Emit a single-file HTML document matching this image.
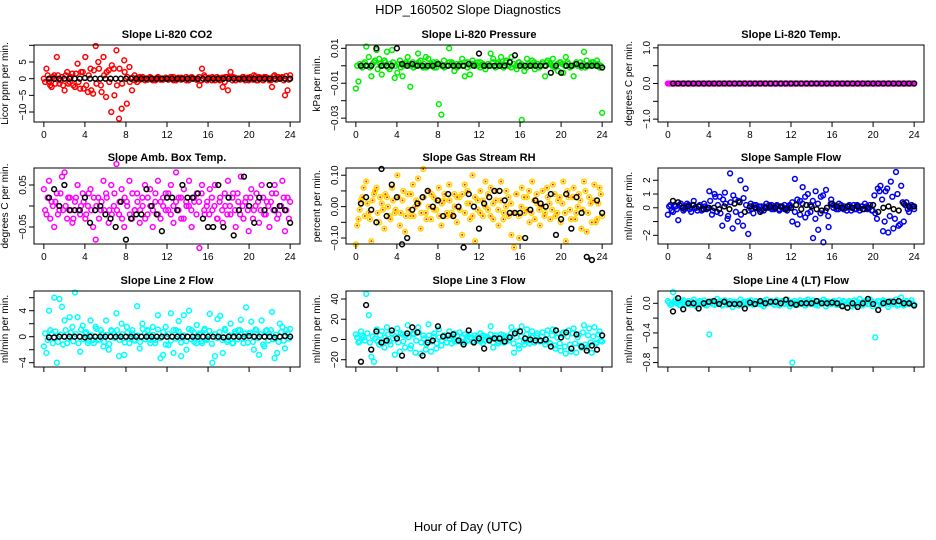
<!DOCTYPE html>
<html><head><meta charset="utf-8">
<style>
body{margin:0;background:#fff;}
svg{display:block;font-family:"Liberation Sans",sans-serif;}
</style></head>
<body>
<svg id="chart" width="936" height="540" viewBox="0 0 936 540" xmlns="http://www.w3.org/2000/svg">
<text x="468" y="14" text-anchor="middle" font-size="13">HDP_160502  Slope Diagnostics</text>
<text x="468" y="531" text-anchor="middle" font-size="13">Hour of Day (UTC)</text>
</svg>
<script>
// colored series: 4 readings per hour (0..24 h); second colored set offset by 1/8 h; black series every 0.5 h from 0.5 h
const co2 = [0,3,-1,-2.5, 1,6.5,-1.5,0.5, -3.5,2,-1,1.5, -2.5,4.5,-3,2, 6.5,-4,3,-4.5, 9.8,5,-2,6.5, -5.5,2.5,-10,3, 8.5,-12,-9,5.5, -7.5,3.5,-3.5,1, -1,0.5,0,-0.5, 0,0.5,-0.5,0, 0.3,0,-0.3,0, 0,0.5,-0.5,0, 0,0.3,0,-0.5, 0,0.5,0,-0.3, -2,3,0.5,-0.5, 0,0.5,-0.5,0, 0,-2.5,0.5,-3.5, 2,0.5,-0.5,0, 0,0.5,0,-0.5, 0,1,-0.5,0.5, 0,0.5,0.3,-0.5, -2.5,1,0.5,0, 0.5,-5,-3.5,1];
const co2b = [-1,1,-2,0.5, -1.5,1,-0.5,-2, 1,-1.5,0.5,-2, 1.5,-1,2,-3, -2,1,-3.5,2.5, -1.5,3,-4,1, 2,-1,4,-5, -2,3,-1.5,2, 0.5,-1,0.3,-0.5, 0.3,-0.3,0.5,0, -0.3,0.3,0,-0.5, 0.5,-0.3,0,0.3, -0.3,0,0.5,-0.5, 0.3,-0.3,0,0.5, -0.5,0.3,0,-0.3, 0.5,-0.5,1,-0.3, 0.3,-0.5,0,0.5, -0.5,0.3,-1,0.5, 0.5,-0.5,0.3,0, -0.3,0.5,-0.5,0.3, 0.5,-0.3,0.7,-0.5, 0.3,-0.5,0.5,0, -0.5,0.7,-0.3,0.5, 0.3,-0.5,0.8,-0.3];
const co2Black = [0,0,0,0,0,0,0,0.2,0,0,0,0,0,0,0,0,0,0,0,0,0,0,0,0,0,0,0,0,0,0,0,0,0,0,0,0,0,0,0,0,0,0,0,0,0,0,0,0];
const pres = [-13,-9,0,1, 11,5,-6,2, 9,4,-5,3, 8,-2,9,-7, -4,3,-6,1, 5,-12,2,0, 7,3,-1,5, 4,0,2,-1, -22,-28,3,0, 10,2,-3,1, 0,4,-6,2, -5,3,1,0, 2,0,-2,1, 7,4,0,2, 5,-1,3,0, 5,1,-2,2, -31,-3,4,0, 3,-2,1,0, 2,-6,3,1, 4,0,-3,2, -4,5,1,0, -6,2,0,-1, 8,3,0,2, 1,3,-1,-27];
const presb = [0,1,-1,2, 0,-1,1,3, -2,1,0,2, -1,1,2,0, 1,-1,0,2, 1,0,-1,1, 2,0,1,-1, 0,1,-1,2, 1,0,-1,0, 2,1,0,-1, 1,0,2,-1, 0,1,0,2, -1,1,0,1, 0,2,-1,1, 1,0,2,0, -1,1,0,2, 1,0,-1,1, 0,2,1,-1, 1,0,2,1, 0,-1,1,2, 1,0,2,-1, 0,1,0,2, 1,-1,0,1, 2,0,1,0];
const presBlack = [0,0,0,10,0,0,0,10,1,0,1,0,0,0,0,1,0,0,0,0,0,1,0,7,0,0,0,0,0,2,6,0,0,0,0,0,0,-4,0,-4,0,0,1,0,0,0,0,-1];
const ltemp = [0,0,0,0,0,0,0,0,0,0,0,0,0,0,0,0,0,0,0,0,0,0,0,0,0,0,0,0,0,0,0,0,0,0,0,0,0,0,0,0,0,0,0,0,0,0,0,0,0,0,0,0,0,0,0,0,0,0,0,0,0,0,0,0,0,0,0,0,0,0,0,0,0,0,0,0,0,0,0,0,0,0,0,0,0,0,0,0,0,0,0,0,0,0,0,0];
const ltempb = [0,0,0,0,0,0,0,0,0,0,0,0,0,0,0,0,0,0,0,0,0,0,0,0,0,0,0,0,0,0,0,0,0,0,0,0,0,0,0,0,0,0,0,0,0,0,0,0,0,0,0,0,0,0,0,0,0,0,0,0,0,0,0,0,0,0,0,0,0,0,0,0,0,0,0,0,0,0,0,0,0,0,0,0,0,0,0,0,0,0,0,0,0,0,0,0];
const ltempBlack = [0,0,0,0,0,0,0,0,0,0,0,0,0,0,0,0,0,0,0,0,0,0,0,0,0,0,0,0,0,0,0,0,0,0,0,0,0,0,0,0,0,0,0,0,0,0,0,0];
const boxT = [4,-2,6,1, -5,3,-1,7, 8,-3,2,-4, 1,5,-2,3, -3,0,4,-5, -8,2,-1,6, 3,-4,5,0, 10,-2,4,-5, 1,6,-3,-1, 3,-4,2,5, -2,4,-5,1, 6,-3,0,3, -1,5,-4,8, 2,-3,4,0, 6,-5,1,3, -10,5,-2,1, 4,-1,5,-3, 2,-4,0,6, -2,3,-5,1, 7,-3,2,-6, 4,-1,3,-4, 5,-2,1,-5, 3,5,-3,0, 6,-6,2,1];
const boxTb = [-1,2,-3,0, 1,-2,3,-1, 0,2,-1,-3, 2,-1,0,1, -2,3,-1,2, 0,-3,1,-1, 2,-1,-2,3, -1,1,-3,2, 0,-2,3,-1, 1,-1,0,-3, 2,0,-1,3, -2,1,2,-1, 3,-2,0,1, -1,2,-3,1, 0,-1,2,-2, 1,3,-1,0, -2,2,0,-3, 1,-1,3,-2, 0,2,-1,3, -2,0,1,-1, 2,-3,0,1, -1,2,-2,0, 1,-1,3,-2, 0,2,-1,-3];
const boxTBlack = [2,4,0,5,-1,-1,-1,2,-4,-1,0,-2,-3,-5,1,-8,-3,-2,-2,4,0,-2,-6,2,2,-1,5,2,2,3,-3,-5,-5,5,-5,2,-7,-1,7,0,-4,2,-1,5,-1,0,-1,-4];
const rh = [-12,-4,2,6, 8,-2,-11,4, 6,-5,1,-7, 3,-3,6,-2, 10,-6,2,-8, 4,-3,7,0, 9,-7,12,-2, 5,-4,3,-1, 6,-6,2,-3, 7,-2,4,-5, 3,-9,7,1, -4,10,-11,2, 5,-3,8,-1, 6,-4,2,-6, 8,-2,5,-3, -9,-13,4,-10, 6,-2,3,-5, 8,-4,1,-6, 5,-2,3,-4, 7,-3,2,-5, 8,-11,3,-4, 6,-2,4,-7, 8,-8,3,-5, 7,-4,6,-3];
const rhb = [-6,-1,3,-3, 1,-4,2,5, -2,3,-1,4, 0,-4,2,-1, 3,-2,5,-3, -1,4,-3,2, 1,-2,3,-4, 0,4,-1,2, -3,1,4,-2, 2,-3,0,3, -1,4,-2,5, 1,-3,3,-1, -2,2,0,4, -3,1,5,-1, 2,-4,0,3, 1,-2,4,-3, 0,3,-1,5, -2,2,4,-1, 0,-3,6,1, -1,4,-2,3, 1,-2,5,-1, 3,-4,0,2, -1,5,-2,1, 2,-5,1,4];
const rhBlack = [1,3,-1,-5,12,-3,7,3,-12,-10,-1,1,3,5,0,2,-3,4,-3,0,-13,4,0,-7,1,3,5,5,2,-2,-2,-2,-10,-1,2,1,0,4,-9,-4,4,-7,3,-2,-16,-17,2,-2];
const sflow = [-5,2,-3,1, -9,3,-2,1, 2,-3,5,0, 1,-2,3,-1, 12,-5,10,-3, 8,-13,11,-8, 25,-15,6,-10, 20,-13,14,-19, 3,-4,2,-1, 1,-2,3,0, 2,-1,1,-2, 0,2,-2,1, -10,21,-12,5, 15,-7,10,-3, -22,12,-16,8, -25,13,-14,6, 2,-1,3,0, 1,-2,2,0, -1,2,-2,1, 3,-1,2,-2, -4,14,16,-17, 12,-18,19,-15, 26,-13,16,-10, 4,-3,2,-1];
const sflowb = [1,-2,2,-1, 2,0,-1,3, -1,2,0,-2, 2,-1,1,0, 5,-2,8,2, -4,6,3,-6, 4,9,-3,5, -5,7,2,-2, -1,2,0,1, -2,1,0,2, -1,0,2,-1, 1,-1,0,2, 4,-3,6,-5, 3,8,-4,2, 5,-8,3,-4, 9,-2,-6,3, 0,1,-1,2, -1,0,1,-2, 2,-1,0,1, -1,1,0,-2, 9,-8,12,6, -10,14,-6,8, -8,10,-12,4, 2,-1,0,1];
const sflowBlack = [5,4,0,1,2,1,-1,0,0,-1,1,-1,3,4,-3,1,0,-3,0,1,0,1,-1,0,2,-1,2,1,-1,-2,0,3,1,0,1,0,1,-1,0,2,-3,0,1,-1,-2,3,1,1];
const l2 = [-1.5,-2.5,4,0.5, 6,-4,5.8,4.6, 2.5,-1,3,1.5, 6.8,3,-2.3,1.7, 0.5,-1,2.5,-0.5, 1.5,-0.5,1,-1.5, 2.5,-2,1,0.5, 3.6,-3,2,-2.8, 1.5,-1,0.5,-0.5, 4.7,-1.8,2,0.5, 1,-0.5,1.5,-1, 3.3,-3.3,-2.8,1.5, -1.3,3.6,-2.5,1, 2.4,-3,3.3,-2, 4,1,-0.8,1.8, 0.5,-1,1.2,-0.3, 3.5,-4,-3,2.7, 3.2,-2.5,1,-0.5, 2,-1,0.5,1, 2.6,-1,4.5,0.5, 2.3,-2,1,-2.8, 2.5,-1.5,1,0.5, 3.8,-3.3,-2.5,2, 1.5,-1.8,0.5,1.2];
const l2b = [0.5,-0.5,1,-1, 0.8,-0.8,0.3,-1.2, 1,-0.3,0.6,-0.7, 0.4,-1,1.1,-0.4, 0.7,-0.6,0.2,-1, 1.2,-0.4,0.5,-0.8, 0.3,-1.1,0.9,-0.2, 1,-0.5,0.4,-0.9, 0.6,-0.3,1,-0.6, 0.2,-0.8,1.2,-0.4, 0.9,-1,0.3,-0.5, 1.1,-0.2,0.7,-1.2, 0.4,-0.6,1,-0.3, 0.8,-0.9,0.2,-0.7, 1.2,-0.4,0.6,-1, 0.3,-0.7,1,-0.5, 0.9,-1.1,0.4,-0.2, 0.7,-0.5,1.2,-0.8, 0.2,-1,0.8,-0.4, 1,-0.3,0.5,-0.9, 0.6,-0.8,1.1,-0.2, 0.4,-1.2,0.9,-0.6, 1,-0.4,0.3,-0.8, 0.7,-0.6,1,-0.3];
const l2Black = [-0.1,-0.1,0,0,0,0,0,-0.1,0,0,0,0,0,0,0,0,0,0,0,0,0,0,0,0,0,0,0,0,0,0,0,0,0,0,-0.1,0,0,0,0,0.1,0,0,0,0,-0.1,0,0.1,0];
const l3 = [5,-3,8,2, 45,24,-17,-22, 10,-5,8,-8, 12,-2,6,-15, 11,-12,5,-8, 14,-9,6,-13, 12,-14,4,-10, 15,-12,3,-9, 10,-6,4,-3, 8,-4,6,-2, 7,-3,5,-1, 5,-2,4,-1, 6,-4,3,0, 13,-8,4,-2, 5,-3,3,-1, 12,-13,8,-9, 13,-5,10,-4, 8,-3,6,-2, 7,-5,9,-4, 10,-9,6,-11, 7,-14,9,-12, 11,-13,5,-8, 14,-8,11,-13, 12,-3,8,-2];
const l3b = [2,-2,4,-1, 6,-3,3,1, -2,4,-4,2, 5,-5,1,3, -3,6,-2,4, 2,-6,5,-1, 7,-3,1,-5, 4,-2,6,-4, 2,-1,3,-3, 1,3,-2,4, -1,2,-3,3, 2,-2,1,3, -2,4,-1,2, 5,-3,2,-4, 1,4,-2,3, 6,-4,2,-6, 3,-2,5,-1, 2,-3,4,-1, 3,-2,5,-3, 4,-6,2,-4, 5,-7,3,-5, 6,-4,2,-6, 7,-5,4,-3, 3,-4,5,-1];
const l3Black = [-22,34,-10,8,-3,-1,9,1,-16,6,12,7,-16,-3,-1,13,3,4,5,-1,-5,9,-3,1,-9,-1,1,1,-2,2,6,8,1,0,-1,-1,0,-7,9,2,7,-9,5,-7,-11,-6,-10,4];
const l4 = [3,-2,15,5, 2,-3,4,0, 3,-2,5,-4, 2,-1,4,-3, -42,3,-2,6, 1,-3,4,-2, 3,-5,2,0, 5,-3,2,-1, 4,-2,3,-1, 2,-4,5,0, 3,-2,4,-3, 2,-1,5,-4, -80,3,-2,4, 2,-3,5,-1, 4,-2,3,0, 5,-4,2,-1, 3,-2,4,-3, 2,-1,3,-4, 4,-2,6,-3, 3,-1,5,-4, -46,3,-2,4, 2,-5,3,-1, 5,-2,8,-3, 3,-1,4,-2];
const l4b = [1,-1,2,0, -2,1,3,-1, 0,2,-1,1, 3,0,-2,2, 1,-1,2,0, 3,-2,1,1, -1,2,0,-3, 1,2,-1,3, 0,-1,2,1, -2,3,0,1, 1,-1,2,-2, 3,0,1,-1, 2,-2,1,0, -1,3,0,2, 1,-1,-3,2, 0,3,-1,1, 2,0,-2,1, 3,-1,1,0, -2,2,1,-1, 0,3,-1,2, 1,-2,2,0, 3,0,-1,2, 1,-3,2,0, -1,2,1,-1];
const l4Black = [-11,7,-8,0,0,-7,0,2,3,-1,2,-1,-1,-1,-7,1,-1,3,0,2,2,0,5,0,-2,0,0,0,3,0,0,1,0,-4,-6,0,-5,0,6,-1,-9,0,2,2,3,0,0,-3];
const xTicks = [0,4,8,12,16,20,24];

const NS = "http://www.w3.org/2000/svg";
const svg = document.getElementById('chart');
function mk(tag, attrs, parent){ const e=document.createElementNS(NS,tag); for(const k in attrs) e.setAttribute(k,attrs[k]); (parent||svg).appendChild(e); return e; }

const panels = [
 {col:0,row:0,title:"Slope Li-820 CO2",ylab:"Licor ppm per min.",ylim:[-13,10.1],ticks:[-10,-5,0,5,10],labels:["−10","−5","0","5",""],data:co2,data2:co2b,black:co2Black,k:1,color:"#ff0000"},
 {col:1,row:0,title:"Slope Li-820 Pressure",ylab:"kPa per min.",ylim:[-0.0322,0.0119],ticks:[-0.03,-0.02,-0.01,0,0.01],labels:["−0.03","","−0.01","","0.01"],data:pres,data2:presb,black:presBlack,k:0.001,color:"#00ee00"},
 {col:2,row:0,title:"Slope Li-820 Temp.",ylab:"degrees C per min.",ylim:[-1.08,1.08],ticks:[-1,-0.5,0,0.5,1],labels:["−1.0","","0.0","","1.0"],data:ltemp,data2:ltempb,black:ltempBlack,k:1,color:"#ff00ff"},
 {col:0,row:1,title:"Slope Amb. Box Temp.",ylab:"degrees C per min.",ylim:[-0.0905,0.0905],ticks:[-0.05,0,0.05],labels:["−0.05","","0.05"],data:boxT,data2:boxTb,black:boxTBlack,k:0.01,color:"#ff00ff"},
 {col:1,row:1,title:"Slope Gas Stream RH",ylab:"percent per min.",ylim:[-0.119,0.123],ticks:[-0.1,-0.05,0,0.05,0.1],labels:["−0.10","","0.00","","0.10"],data:rh,data2:rhb,black:rhBlack,k:0.01,color:"#ffd700",inner:"#ff2000"},
 {col:2,row:1,title:"Slope Sample Flow",ylab:"ml/min per min.",ylim:[-2.63,2.89],ticks:[-2,-1,0,1,2],labels:["−2","","0","1","2"],data:sflow,data2:sflowb,black:sflowBlack,k:0.1,color:"#0000ee"},
 {col:0,row:2,title:"Slope Line 2 Flow",ylab:"ml/min per min.",ylim:[-4.66,7.03],ticks:[-4,-2,0,2,4,6],labels:["−4","","0","","4",""],data:l2,data2:l2b,black:l2Black,k:1,color:"#00ffff"},
 {col:1,row:2,title:"Slope Line 3 Flow",ylab:"ml/min per min.",ylim:[-27.2,47.9],ticks:[-20,0,20,40],labels:["−20","0","20","40"],data:l3,data2:l3b,black:l3Black,k:1,color:"#00ffff"},
 {col:2,row:2,title:"Slope Line 4 (LT) Flow",ylab:"ml/min per min.",ylim:[-0.86,0.166],ticks:[-0.8,-0.6,-0.4,-0.2,0],labels:["−0.8","","−0.4","","0.0"],data:l4,data2:l4b,black:l4Black,k:0.01,color:"#00ffff"}
];
const tops=[45,168,291], bots=[122,244,367];

panels.forEach((p,pi)=>{
  const x0=34+312*p.col, x1=300+312*p.col, y0=tops[p.row], y1=bots[p.row];
  const g=mk('g',{});
  
  
  const xs=v=>x0+(v+0.96)/25.92*(x1-x0);
  const ys=v=>y1-(v-p.ylim[0])/(p.ylim[1]-p.ylim[0])*(y1-y0);
  const t=mk('text',{x:(x0+x1)/2,y:y0-7,'text-anchor':'middle','font-size':11,'font-weight':'bold'},g);
  t.textContent=p.title;
  
  
  const dot=(hour,v)=>{
    const cx=xs(hour), cy=ys(v*p.k);
    const c=mk('circle',{cx:cx,cy:cy,r:2.4,fill:'none',stroke:p.color,'stroke-width':1.5},g);
    
    
    if(p.inner){ mk('circle',{cx:cx,cy:cy,r:1,fill:p.inner},g); }
  };
  const n=p.data.length;
  p.data.forEach((v,i)=>dot(i*24/(n-1),v));
  p.data2.forEach((v,i)=>dot((i+0.5)*0.25,v));
  p.black.forEach((v,i)=>{
    const c=mk('circle',{cx:xs((i+1)*0.5),cy:ys(v*p.k),r:2.4,fill:'none',stroke:'#000','stroke-width':1.5},g);
    
    
  });
  const box=mk('rect',{x:x0,y:y0,width:x1-x0,height:y1-y0,fill:'none',stroke:'#000','stroke-width':1},g);
  
  
  xTicks.forEach(v=>{
    const x=xs(v);
    mk('line',{x1:x,x2:x,y1:y1,y2:y1+5,stroke:'#000'},g);
    if(p.row<2){
      const l=mk('text',{x:x,y:y1+16,'text-anchor':'middle','font-size':10},g);
      l.textContent=v;
      
      
    }
  });
  p.ticks.forEach((v,i)=>{
    const y=ys(v);
    mk('line',{x1:x0-5,x2:x0,y1:y,y2:y,stroke:'#000'},g);
    if(p.labels[i]){
      const l=mk('text',{x:x0-8,y:y,'text-anchor':'middle','font-size':10,transform:`rotate(-90 ${x0-8} ${y})`},g);
      l.textContent=p.labels[i];
      
      
    }
  });
  const yl=mk('text',{x:x0-26,y:(y0+y1)/2,'text-anchor':'middle','font-size':10,transform:`rotate(-90 ${x0-26} ${(y0+y1)/2})`},g);
  yl.textContent=p.ylab;
  
  
});
</script>
</body></html>
